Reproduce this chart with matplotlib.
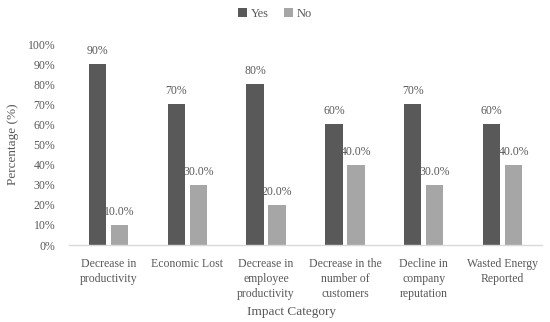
import numpy as np
import matplotlib.pyplot as plt

categories = [
    "Decrease in\nproductivity",
    "Economic Lost",
    "Decrease in\nemployee\nproductivity",
    "Decrease in the\nnumber of\ncustomers",
    "Decline in\ncompany\nreputation",
    "Wasted Energy\nReported",
]
yes_vals = [90, 70, 80, 60, 70, 60]
no_vals = [10, 30, 20, 40, 30, 40]

TXT = "#595959"
YES_C = "#595959"
NO_C = "#a6a6a6"

plt.rcParams["font.family"] = ["Liberation Serif", "DejaVu Serif"]

fig = plt.figure(figsize=(5.5, 3.22), dpi=100)
ax = fig.add_axes([0.1255, 0.239, 0.86, 0.624])

x = np.arange(len(categories))
w = 0.22
off = 0.14
b_yes = ax.bar(x - off, yes_vals, w, color=YES_C, label="Yes")
b_no = ax.bar(x + off, no_vals, w, color=NO_C, label="No")

for rect, v in zip(b_yes, yes_vals):
    ax.text(rect.get_x() + rect.get_width() / 2, v + 3.5, f"{v}%",
            ha="center", va="bottom", fontsize=8.5, color=TXT)
for rect, v in zip(b_no, no_vals):
    ax.text(rect.get_x() + rect.get_width() / 2, v + 3.5, f"{v:.1f}%",
            ha="center", va="bottom", fontsize=8.5, color=TXT)

ax.set_xlim(-0.5, len(categories) - 0.5)
ax.set_ylim(0, 100)
ax.set_yticks(np.arange(0, 101, 10))
ax.set_yticklabels([f"{t}%" for t in range(0, 101, 10)])
ax.set_xticks(x)
ax.set_xticklabels(categories, linespacing=1.35)
ax.tick_params(axis="both", length=0, labelsize=8.5, colors=TXT)
ax.tick_params(axis="y", pad=10)
ax.tick_params(axis="x", pad=9)

for s in ["top", "right", "left"]:
    ax.spines[s].set_visible(False)
ax.spines["bottom"].set_color("#d9d9d9")
ax.spines["bottom"].set_linewidth(1.0)

ax.set_ylabel("Percentage (%)", fontsize=9.5, color=TXT, labelpad=6)
ax.set_xlabel("Impact Category", fontsize=9.5, color=TXT)
ax.xaxis.set_label_coords(0.47, -0.305)

fig.legend(loc="upper center", bbox_to_anchor=(0.5, 1.01), ncol=2, frameon=False,
           fontsize=9, handlelength=0.7, handleheight=0.7, handletextpad=0.3,
           columnspacing=1.2, labelcolor=TXT)

fig.savefig("out.png", dpi=100)
